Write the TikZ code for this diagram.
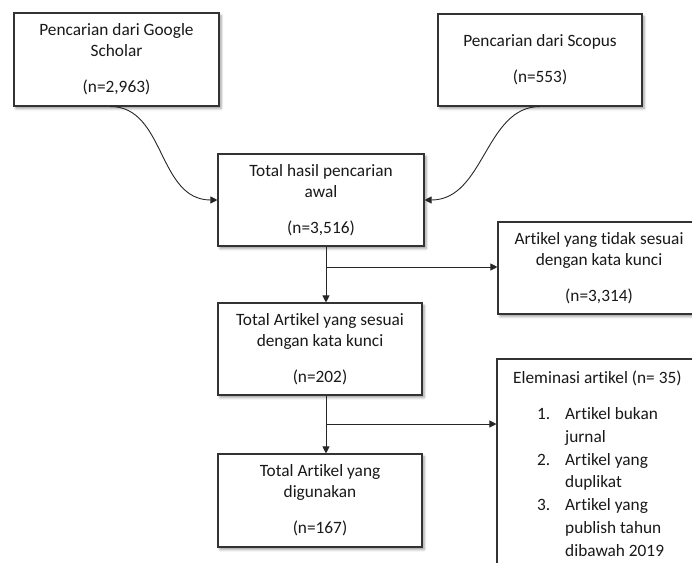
\documentclass[tikz,border=0pt]{standalone}
\usepackage{fontspec}
\setmainfont{Carlito}[Ligatures=NoCommon]
\usetikzlibrary{arrows.meta,shadows.blur,calc}
\begin{document}
\begin{tikzpicture}[x=1pt,y=-1pt,
  box/.style={draw=black!80,line width=1.1pt,fill=white,rectangle,inner sep=0pt,
    align=center,text=black!90,font=\fontsize{17.3}{21}\selectfont,
    blur shadow={shadow xshift=2pt,shadow yshift=-2.5pt,shadow blur radius=2.5pt,shadow opacity=40}},
  txt/.style={inner sep=0pt,text=black!90,font=\fontsize{17.3}{22.7}\selectfont},
  arr/.style={draw=black!85,line width=0.9pt,-{Triangle[length=7pt,width=7pt]}}]
\useasboundingbox (0,0) rectangle (692,562);
\clip (0,0) rectangle (692,562);
\node[box,minimum width=205pt,minimum height=93pt] (g) at (116.5,59.5)
  {Pencarian dari Google\\Scholar\\[15pt](n=2,963)};
\node[box,minimum width=204pt,minimum height=92pt] (s) at (540,60)
  {Pencarian dari Scopus\\[15pt](n=553)};
\node[box,minimum width=206pt,minimum height=92pt] (th) at (321,200)
  {Total hasil pencarian\\awal\\[15pt](n=3,516)};
\node[box,minimum width=202pt,minimum height=92pt] (tk) at (599,268)
  {Artikel yang tidak sesuai\\dengan kata kunci\\[15pt](n=3,314)};
\node[box,minimum width=204pt,minimum height=92pt] (ts) at (320,349)
  {Total Artikel yang sesuai\\dengan kata kunci\\[15pt](n=202)};
\node[box,minimum width=204pt,minimum height=93pt] (td) at (320,500.5)
  {Total Artikel yang\\digunakan\\[15pt](n=167)};
\node[box,minimum width=202pt,minimum height=241pt] (el) at (598,479.5) {};
\node[txt,anchor=north west,align=left] (elt) at (513,371)
  {Eleminasi artikel (n= 35)\\[13.3pt]
   \hspace*{24pt}\makebox[28pt][l]{1.}Artikel bukan\\
   \hspace*{52pt}jurnal\\
   \hspace*{24pt}\makebox[28pt][l]{2.}Artikel yang\\
   \hspace*{52pt}duplikat\\
   \hspace*{24pt}\makebox[28pt][l]{3.}Artikel yang\\
   \hspace*{52pt}publish tahun\\
   \hspace*{52pt}dibawah 2019};
\coordinate (gs) at ($(g.south)+(-6,0)$);
\draw[arr] (gs) .. controls +(55,0) and +(-60,0) .. (th.west);
\draw[arr] (s.south) .. controls +(-55,0) and +(60,0) .. (th.east);
\coordinate (b1) at (326,267);
\coordinate (b2) at (326,424);
\draw[arr] (th.south -| b1) -- (ts.north -| b1);
\draw[arr] (b1) -- (b1 -| tk.west);
\draw[arr] (ts.south -| b2) -- (td.north -| b2);
\draw[arr] (b2) -- (b2 -| el.west);
\end{tikzpicture}
\end{document}
